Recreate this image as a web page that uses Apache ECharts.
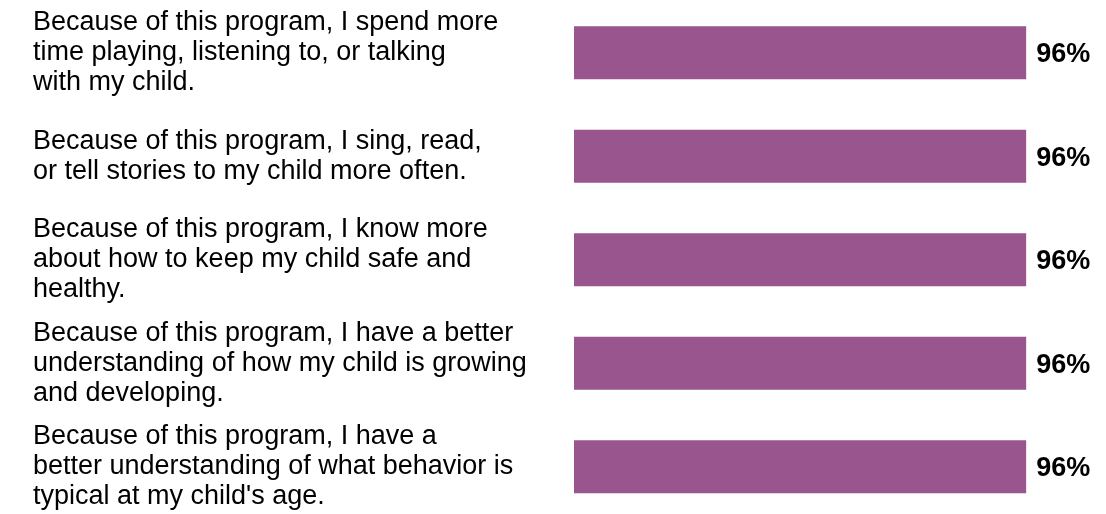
<!DOCTYPE html>
<html>
<head>
<meta charset="utf-8">
<script src="https://cdn.jsdelivr.net/npm/echarts@6/dist/echarts.min.js"></script>
<style>
html, body { margin: 0; padding: 0; background: #fff; overflow: hidden; }
#chart { width: 1106px; height: 520px; }
</style>
</head>
<body>
<div id="chart"></div>
<script>
// survey statements (top to bottom)
var categories = [
    'Because of this program, I spend more\ntime playing, listening to, or talking\nwith my child.',
    'Because of this program, I sing, read,\nor tell stories to my child more often.',
    'Because of this program, I know more\nabout how to keep my child safe and\nhealthy.',
    'Because of this program, I have a better\nunderstanding of how my child is growing\nand developing.',
    'Because of this program, I have a\nbetter understanding of what behavior is\ntypical at my child\'s age.'
];
// percent agree
var values = [96, 96, 96, 96, 96];

var chart = echarts.init(document.getElementById('chart'));

var option = {
    animation: false,
    grid: {
        left: 574,
        top: 1,
        width: 471,
        height: 517.5
    },
    xAxis: {
        type: 'value',
        min: 0,
        max: 100,
        show: false
    },
    yAxis: {
        type: 'category',
        inverse: true,
        data: categories,
        axisLine: { show: false },
        axisTick: { show: false },
        splitLine: { show: false },
        axisLabel: {
            align: 'left',
            margin: 541,
            color: '#000',
            fontFamily: 'Liberation Sans',
            fontSize: 27,
            lineHeight: 30,
            padding: [3, 0, 0, 0]
        }
    },
    series: [
        {
            type: 'bar',
            data: values,
            barWidth: 53,
            itemStyle: { color: '#98558e' },
            label: {
                show: true,
                position: 'right',
                distance: 10,
                offset: [0, 2],
                formatter: '{c}%',
                color: '#000',
                fontFamily: 'Liberation Sans',
                fontWeight: 'bold',
                fontSize: 27
            }
        }
    ]
};

chart.setOption(option);
</script>
</body>
</html>
